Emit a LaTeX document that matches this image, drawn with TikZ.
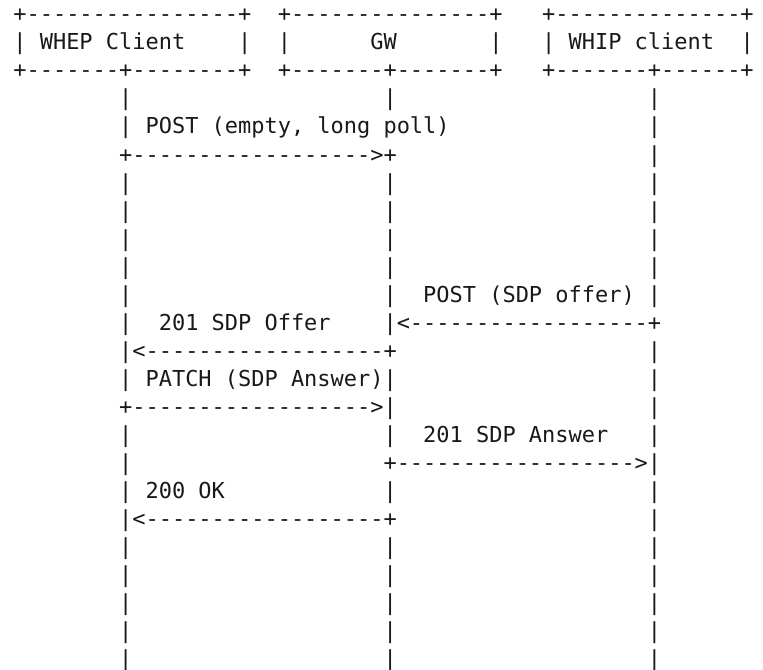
\documentclass[tikz,border=0pt]{standalone}
\usepackage{fontspec}
\setmonofont{DejaVu Sans Mono}
\frenchspacing
\tikzset{
  asc/.style={anchor=base west, inner sep=0pt, outer sep=0pt,
    font=\ttfamily\fontsize{21.96bp}{28bp}\selectfont, text=black!90}
}
% column left edge and row baseline in px
\newcommand\segat[4]{\node[asc] (#1) at ({13.39+13.22*#2},{22+28*#3}) {#4};}
\newcommand\lifelines[2]{%
  \segat{#1a}{8}{#2}{|}\segat{#1b}{28}{#2}{|}\segat{#1c}{48}{#2}{|}}
\begin{document}
\begin{tikzpicture}[x=1bp,y=-1bp]
\useasboundingbox[fill=white] (0,0) rectangle (763,670);
% header boxes
\segat{r0a}{0}{0}{+----------------+}
\segat{r0b}{20}{0}{+---------------+}
\segat{r0c}{40}{0}{+--------------+}
\segat{r1a}{0}{1}{|}
\segat{whep}{2}{1}{WHEP Client}
\segat{r1b}{17}{1}{|}
\segat{r1c}{20}{1}{|}
\segat{gw}{27}{1}{GW}
\segat{r1d}{36}{1}{|}
\segat{r1e}{40}{1}{|}
\segat{whip}{42}{1}{WHIP client}
\segat{r1f}{55}{1}{|}
\segat{r2a}{0}{2}{+-------+--------+}
\segat{r2b}{20}{2}{+-------+-------+}
\segat{r2c}{40}{2}{+-------+------+}
% row 3
\lifelines{r3}{3}
% row 4
\segat{r4a}{8}{4}{|}
\segat{post1}{10}{4}{POST (empty, long poll)}
\segat{r4c}{48}{4}{|}
% row 5
\segat{arr1}{8}{5}{+------------------>+}
\segat{r5c}{48}{5}{|}
% rows 6-9
\lifelines{r6}{6}
\lifelines{r7}{7}
\lifelines{r8}{8}
\lifelines{r9}{9}
% row 10
\segat{r10a}{8}{10}{|}
\segat{r10b}{28}{10}{|}
\segat{post2}{31}{10}{POST (SDP offer)}
\segat{r10c}{48}{10}{|}
% row 11
\segat{r11a}{8}{11}{|}
\segat{offer}{11}{11}{201 SDP Offer}
\segat{arr2}{28}{11}{|<------------------+}
% row 12
\segat{arr3}{8}{12}{|<------------------+}
\segat{r12c}{48}{12}{|}
% row 13
\segat{r13a}{8}{13}{|}
\segat{patch}{10}{13}{PATCH (SDP Answer)}
\segat{r13b}{28}{13}{|}
\segat{r13c}{48}{13}{|}
% row 14
\segat{arr4}{8}{14}{+------------------>|}
\segat{r14c}{48}{14}{|}
% row 15
\segat{r15a}{8}{15}{|}
\segat{r15b}{28}{15}{|}
\segat{answer}{31}{15}{201 SDP Answer}
\segat{r15c}{48}{15}{|}
% row 16
\segat{r16a}{8}{16}{|}
\segat{arr5}{28}{16}{+------------------>|}
% row 17
\segat{r17a}{8}{17}{|}
\segat{ok}{10}{17}{200 OK}
\segat{r17b}{28}{17}{|}
\segat{r17c}{48}{17}{|}
% row 18
\segat{arr6}{8}{18}{|<------------------+}
\segat{r18c}{48}{18}{|}
% rows 19-23
\lifelines{r19}{19}
\lifelines{r20}{20}
\lifelines{r21}{21}
\lifelines{r22}{22}
\lifelines{r23}{23}
\end{tikzpicture}
\end{document}
